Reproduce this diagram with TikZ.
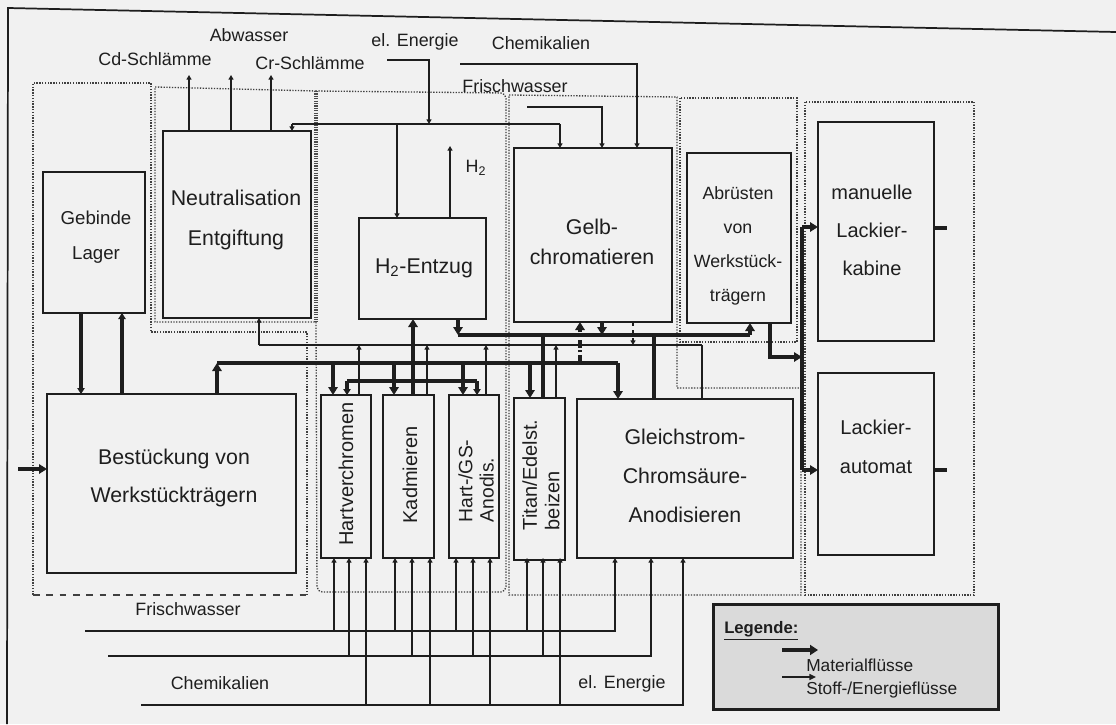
\documentclass[tikz,border=0pt]{standalone}
\usepackage{fontspec}
\setmainfont{Liberation Sans}
\usetikzlibrary{arrows.meta}
\definecolor{bg}{RGB}{241,241,241}
\definecolor{ink}{RGB}{30,30,30}
\definecolor{legbg}{RGB}{218,218,218}
\newcommand\mkbox[5]{\node[box, anchor=north west, minimum width={(#4-#2)*0.75}, minimum height={(#5-#3)*0.75}] (#1) at (#2,#3) {};}
\begin{document}
\begin{tikzpicture}[x=0.75pt,y=-0.75pt,
  box/.style={draw=ink, line width=1.9pt, inner sep=0pt, outer sep=0pt},
  txt/.style={inner sep=0pt, text=ink, align=center},
  lbl/.style={inner sep=0pt, text=ink, font=\fontsize{13.4}{16}\selectfont},
  mat/.style={draw=ink, line width=3pt},
  matar/.style={mat, -{Triangle[length=6pt,width=7pt]}},
  matsm/.style={mat, -{Triangle[length=4.5pt,width=5.5pt]}},
  stoff/.style={draw=ink, line width=1.1pt},
  star/.style={stoff, -{Triangle[length=3.5pt,width=3.8pt]}},
  grp/.style={draw=ink!85, line width=1pt, dash pattern=on 1pt off 1.1pt},
  grpheavy/.style={draw=ink!80, line width=2.4pt, dash pattern=on 0.9pt off 0.9pt},
  grpdash/.style={draw=ink!85, line width=1.8pt, dash pattern=on 5pt off 5pt},
]
\useasboundingbox (0,0) rectangle (1116,724);
\fill[bg] (0,0) rectangle (1116,724);
% frame of the page
\draw[ink, line width=1.3pt] (7,724) -- (8,8) -- (1116,32);

% group outlines
\draw[grp] (307,595) -- (307,332) -- (151,332) -- (151,83) -- (33,83) -- (33,595);
\draw[grpdash] (33,595) -- (307,595);
\draw[grp] (316,91) -- (155,87) -- (155,322) -- (316,322);
\draw[grpheavy] (316,91) -- (316,322);
\draw[grp, rounded corners=4pt] (316,322) -- (317,592) -- (506,592) -- (506,93) -- (316,91);
\draw[grp] (509,95) -- (677,97) -- (677,388) -- (801,388) -- (801,595) -- (509,595) -- cycle;
\draw[grp] (680,98) rectangle (797,342);
\draw[grp] (805,102) rectangle (974,595);

% boxes
\mkbox{lager}{43}{172}{145}{313}
\mkbox{neut}{163}{131}{311}{318}
\mkbox{hze}{359}{218}{486}{319}
\mkbox{gelb}{514}{148}{672}{322}
\mkbox{abr}{687}{153}{791}{323}
\mkbox{lack}{818}{122}{934}{341}
\mkbox{laut}{818}{373}{934}{555}
\mkbox{best}{47}{394}{296}{573}
\mkbox{hart}{321}{395}{371}{558}
\mkbox{kad}{383}{395}{434}{558}
\mkbox{hgs}{449}{395}{499}{558}
\mkbox{tit}{514}{398}{565}{560}
\mkbox{gls}{577}{399}{793}{558}

% box texts
\node[txt, font=\fontsize{14}{26}\selectfont] (tlager) at (96,237) {Gebinde\\Lager};
\node[txt, font=\fontsize{16}{30}\selectfont] (tneut) at (236,220) {Neutralisation\\Entgiftung};
\node[txt, font=\fontsize{16}{20}\selectfont] (thze) at (424,268) {H\textsubscript{2}-Entzug};
\node[txt, font=\fontsize{16}{22.5}\selectfont] (tgelb) at (592,242) {Gelb-\\chromatieren};
\node[txt, font=\fontsize{13.3}{25.5}\selectfont] (tabr) at (738,246) {Abrüsten\\von\\Werkstück-\\trägern};
\node[txt, font=\fontsize{15}{28.5}\selectfont] (tlack) at (872,230) {manuelle\\Lackier-\\kabine};
\node[txt, font=\fontsize{15}{29}\selectfont] (tlaut) at (876,447) {Lackier-\\automat};
\node[txt, font=\fontsize{16}{28}\selectfont] (tbest) at (174,478) {Bestückung von\\Werkstückträgern};
\node[txt, rotate=90, font=\fontsize{15}{18}\selectfont] (thart) at (346,474) {Hartverchromen};
\node[txt, rotate=90, font=\fontsize{15}{18}\selectfont] (tkad) at (410,475) {Kadmieren};
\node[txt, rotate=90, align=left, font=\fontsize{14.5}{16}\selectfont] (thgs) at (476,481) {Hart-/GS-\\Anodis.};
\node[txt, rotate=90, align=left, font=\fontsize{15}{17}\selectfont] (ttit) at (541,475) {Titan/Edelst.\\beizen};
\node[txt, font=\fontsize{16}{29}\selectfont] (tgls) at (685,476) {Gleichstrom-\\Chromsäure-\\Anodisieren};

% top labels
\node[lbl] (lcd) at (155,59) {Cd-Schlämme};
\node[lbl] (lab) at (249,35) {Abwasser};
\node[lbl] (lcr) at (310,63) {Cr-Schlämme};
\node[lbl] (lel) at (415,42) {el. Energie};
\node[lbl] (lch) at (541,43) {Chemikalien};
\node[lbl] (lfw) at (515,86) {Frischwasser};
\node[lbl] (lh2) at (476,168) {H\textsubscript{2}};
% bottom labels
\node[lbl] (bfw) at (188,609) {Frischwasser};
\node[lbl] (bch) at (220,683) {Chemikalien};
\node[lbl] (bel) at (622,684) {el. Energie};

% outputs of Neutralisation
\coordinate (oCd) at (189,75);
\coordinate (oAb) at (231,75);
\coordinate (oCr) at (271,75);
\draw[star] (189,0 |- neut.north) -- (oCd);
\draw[star] (231,0 |- neut.north) -- (oAb);
\draw[star] (271,0 |- neut.north) -- (oCr);

% electric energy (top)
\coordinate (eS) at (387,60);
\coordinate (eJ) at (429,124);
\coordinate (eB1) at (292,124);
\coordinate (eB2) at (560,124);
\draw[star] (eS) -- (429,60) -- (eJ);
\draw[stoff] (eB1) -- (eB2);
\draw[star] (eB1) -- (eB1 |- neut.north);
\draw[star] (397,124) -- (397,0 |- hze.north);
\draw[star] (eB2) -- (eB2 |- gelb.north);

% H2 out
\coordinate (oH2) at (450,146);
\draw[star] (450,0 |- hze.north) -- (oH2);

% fresh water and chemicals (top)
\coordinate (fwT) at (527,107);
\draw[star] (fwT) -- (602,107) -- (602,0 |- gelb.north);
\coordinate (chT) at (460,64);
\draw[star] (chT) -- (637,64) -- (637,0 |- gelb.north);

% waste water line
\coordinate (wL) at (259,345);
\coordinate (wR) at (702,345);
\draw[stoff] (wL) -- (wR);
\draw[star] (wL) -- (wL |- neut.south);
\draw[star] (359,0 |- hart.north) -- (359,345);
\draw[star] (427,0 |- kad.north) -- (427,345);
\draw[star] (486,0 |- hgs.north) -- (486,345);
\draw[star] (556,0 |- tit.north) -- (556,345);
\draw[stoff] (wR) -- (wR |- gls.north);
\draw[star, dashed] (633,0 |- gelb.south) -- (633,345);

% material bus A (from Bestueckung)
\coordinate (aL) at (217,363);
\coordinate (aR) at (618,363);
\draw[matar] (aL |- best.north) -- (aL);
\draw[mat] (aL) -- (aR);
\draw[matar] (aR) -- (aR |- gls.north);
\draw[matar] (333,363) -- (333,0 |- hart.north);
\draw[matar] (394,363) -- (394,0 |- kad.north);
\draw[matar] (463,363) -- (463,0 |- hgs.north);
\draw[matar] (530,363) -- (530,0 |- tit.north);
\draw[matar, dash pattern=on 6pt off 2pt on 1.5pt off 2pt] (580,363) -- (580,0 |- gelb.south);

% material bus C (to Abruesten)
\coordinate (cL) at (458,335);
\coordinate (cR) at (750,335);
\draw[matar] (cL |- hze.south) -- (cL);
\draw[mat] (cL) -- (cR);
\draw[matar] (cR) -- (cR |- abr.south);
\draw[matar] (602,0 |- gelb.south) -- (602,335);
\draw[mat] (543,0 |- tit.north) -- (543,335);
\draw[mat] (654,0 |- gls.north) -- (654,335);

% material bus B (H2-Entzug)
\coordinate (bL) at (347,381);
\coordinate (bR) at (477,381);
\draw[mat] (bL) -- (bR);
\draw[matsm] (bL) -- (bL |- hart.north);
\draw[matsm] (bR) -- (bR |- hgs.north);
\draw[matar] (413,0 |- kad.north) -- (413,0 |- hze.south);

% Lager <-> Bestueckung
\draw[matsm] (81,0 |- lager.south) -- (81,0 |- best.north);
\draw[matsm] (122,0 |- best.north) -- (122,0 |- lager.south);

% input into Bestueckung
\coordinate (inL) at (18,469);
\draw[matar] (inL) -- (inL -| best.west);

% Abruesten -> Lackier
\coordinate (lv1) at (802,227);
\coordinate (lv2) at (802,470);
\draw[mat] (lv1) -- (lv2);
\draw[matar] (lv1) -- (lv1 -| lack.west);
\draw[matar] (lv2) -- (lv2 -| laut.west);
\draw[matar] (770,0 |- abr.south) -- (770,357) -- (802,357);
\coordinate (o1) at (947,228);
\coordinate (o2) at (947,470);
\draw[mat] (o1 -| lack.east) -- (o1);
\draw[mat] (o2 -| laut.east) -- (o2);

% supply lines at the bottom
\coordinate (fwB) at (85,631);
\coordinate (chB) at (108,656);
\coordinate (elB) at (141,705);
\draw[star] (fwB) -- (615,631) -- (615,0 |- gls.south);
\draw[star] (chB) -- (651,656) -- (651,0 |- gls.south);
\draw[star] (elB) -- (683,705) -- (683,0 |- gls.south);
\foreach \x in {334,395,456,527} {\draw[star] (\x,631) -- (\x,558);}
\foreach \x in {349,412,473,543} {\draw[star] (\x,656) -- (\x,558);}
\foreach \x in {366,430,490,560} {\draw[star] (\x,705) -- (\x,558);}

% legend
\node[draw=ink, line width=2.6pt, fill=legbg, anchor=north west, minimum width={285*0.75}, minimum height={105*0.75}, inner sep=0pt] (leg) at (712,603) {};
\node[inner sep=0pt, anchor=west, text=ink, font=\bfseries\fontsize{12.5}{15}\selectfont] (legt) at (724,631) {\underline{Legende:}};
\coordinate (la1) at (782,650);
\coordinate (la2) at (818,650);
\coordinate (lb1) at (782,677);
\coordinate (lb2) at (816,677);
\draw[mat, line width=3.2pt, -{Triangle[length=6pt,width=7.5pt]}] (la1) -- (la2);
\draw[stoff, line width=1.1pt, -{Triangle[length=5pt,width=4.5pt]}] (lb1) -- (lb2);
\node[inner sep=0pt, anchor=west, text=ink, font=\fontsize{13}{15}\selectfont] (lm) at (806,665) {Materialflüsse};
\node[inner sep=0pt, anchor=west, text=ink, font=\fontsize{13}{15}\selectfont] (ls) at (806,690) {Stoff-/Energieflüsse};
\end{tikzpicture}
\end{document}
